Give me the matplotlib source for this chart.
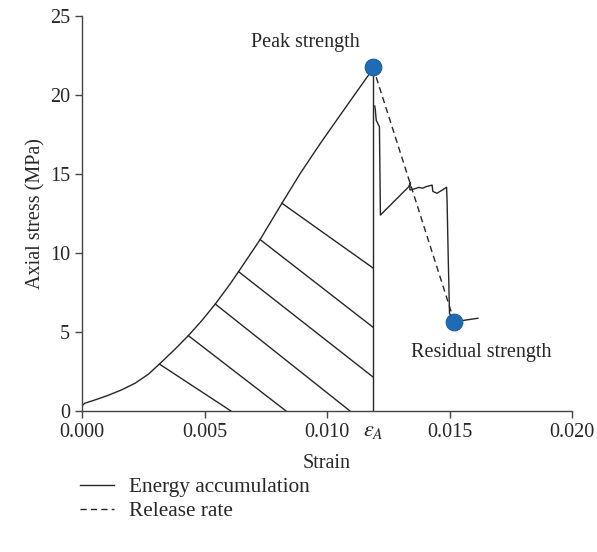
import matplotlib
matplotlib.use("Agg")
from matplotlib import pyplot as plt

# stress-strain curve before peak (strain, MPa)
pre_strain = [0.0, 0.0, 0.00011, 0.00053, 0.00108, 0.00162, 0.00217, 0.00271, 0.00316,
              0.0038, 0.00434, 0.00489, 0.00544, 0.00605, 0.00639, 0.00727, 0.00816,
              0.00891, 0.00973, 0.01054, 0.01136, 0.0117, 0.01188]
pre_stress = [0.05, 0.32, 0.49, 0.70, 1.0, 1.34, 1.76, 2.33, 2.97,
              3.92, 4.77, 5.72, 6.77, 8.05, 8.82, 10.85, 13.15,
              15.04, 16.94, 18.73, 20.53, 21.27, 21.75]

# curve after peak
post_strain = [0.01195, 0.01197, 0.01201, 0.01214, 0.01218, 0.01334, 0.0134, 0.01338,
               0.01355, 0.01375, 0.0139, 0.01405, 0.01429, 0.01432, 0.01449, 0.01467,
               0.01488, 0.0149, 0.01495, 0.015, 0.0152, 0.01616]
post_stress = [19.3, 19.09, 18.4, 17.99, 12.4, 14.2, 14.45, 13.99,
               14.05, 14.15, 14.1, 14.2, 14.3, 13.9, 13.78, 13.95,
               14.16, 13.35, 9.56, 6.18, 5.65, 5.87]

# hatch lines in the accumulated energy area
hatch_x0 = [0.00316, 0.00434, 0.00544, 0.00639, 0.00727, 0.00816]
hatch_y0 = [2.97, 4.77, 6.77, 8.82, 10.85, 13.15]
hatch_x1 = [0.00608, 0.00833, 0.01094, 0.01188, 0.01188, 0.01188]
hatch_y1 = [0.0, 0.0, 0.0, 2.15, 5.3, 9.05]

eps_a = 0.01188
peak = (0.01188, 21.75)
residual = (0.0152, 5.65)

plt.rcParams['font.family'] = ['Liberation Serif', 'DejaVu Serif']
plt.rcParams['mathtext.fontset'] = 'stix'
plt.rcParams['font.size'] = 14.5

ink = '#262626'
fig = plt.figure(figsize=(5.97, 5.52), dpi=100)
ax = fig.add_axes([82/597, 1 - 411/552, 490/597, 395/552])

ax.plot(pre_strain, pre_stress, color=ink, lw=1.0, label='Energy accumulation')
ax.plot(post_strain, post_stress, color=ink, lw=1.0)
ax.plot([eps_a, eps_a], [0, peak[1]], color=ink, lw=1.0)
for i in range(len(hatch_x0)):
    ax.plot([hatch_x0[i], hatch_x1[i]], [hatch_y0[i], hatch_y1[i]], color=ink, lw=1.0)
ax.plot([peak[0], residual[0]], [peak[1], residual[1]], color=ink, lw=1.0,
        linestyle=(0, (4.5, 3.0)), label='Release rate')
ax.plot([peak[0], residual[0]], [peak[1], residual[1]], 'o', ms=12,
        color='#1f6cb5', mec='#1a5f9e', mew=0.8, zorder=5)

ax.text(0.0091, 22.75, 'Peak strength', ha='center', va='bottom', color=ink, fontsize=14.5)
ax.text(0.0163, 3.7, 'Residual strength', ha='center', va='center', color=ink, fontsize=14.5)
ax.annotate(r'$\varepsilon_A$', xy=(eps_a, 0), xycoords=('data', 'axes fraction'),
            xytext=(0, -8), textcoords='offset points', ha='center', va='top',
            color=ink, fontsize=16)

ax.set_xlim(0, 0.020)
ax.set_ylim(0, 25)
ax.set_xticks([0.0, 0.005, 0.010, 0.015, 0.020])
ax.set_xticklabels(['0.000', '0.005', '0.010', '0.015', '0.020'])
ax.set_yticks([0, 5, 10, 15, 20, 25])
ax.spines['top'].set_visible(False)
ax.spines['right'].set_visible(False)
for s in ['left', 'bottom']:
    ax.spines[s].set_color('#444444')
    ax.spines[s].set_linewidth(1.0)
ax.tick_params(direction='out', length=5, width=1.0, color='#444444',
               labelcolor=ink, labelsize=14.5)
ax.set_xlabel('Strain', color=ink, fontsize=14.5, labelpad=9)
ax.set_ylabel('Axial stress (MPa)', color=ink, fontsize=14.5, labelpad=3)

fig.legend(loc='upper left', bbox_to_anchor=(61/597, 1 - 458/552), frameon=False,
           handlelength=1.6, handletextpad=0.7, labelspacing=0.2, fontsize=15.3,
           labelcolor=ink)

fig.savefig('out.png', dpi=100)
